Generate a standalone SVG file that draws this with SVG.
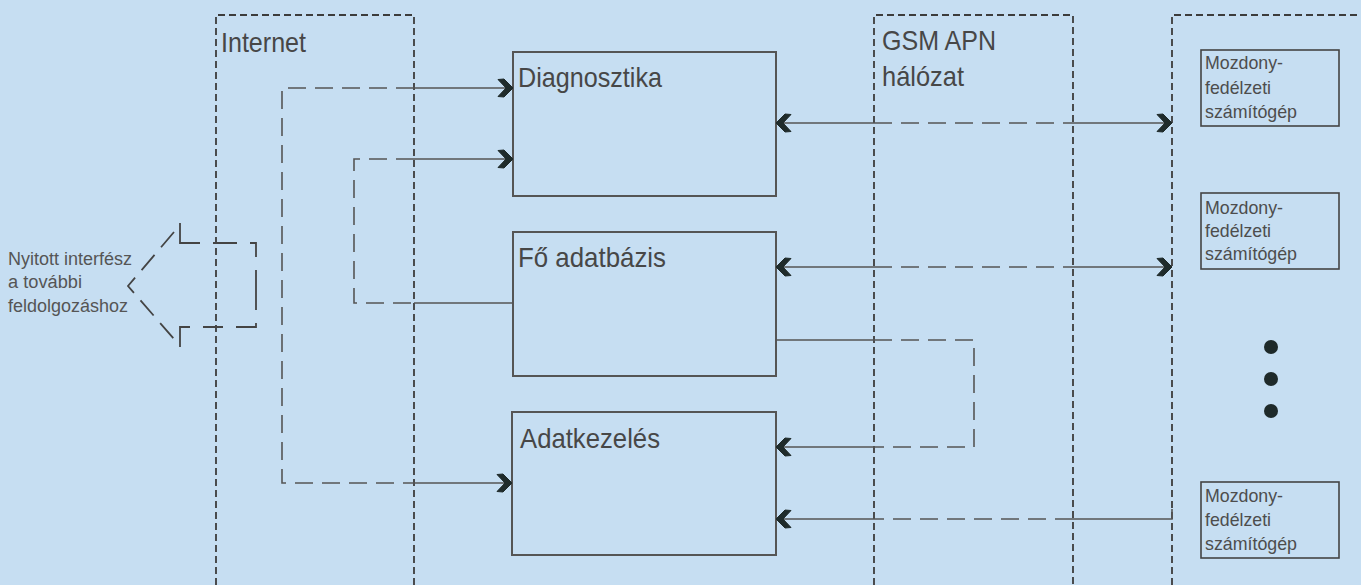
<svg xmlns="http://www.w3.org/2000/svg" width="1361" height="585" viewBox="0 0 1361 585">
<style>
.zone{fill:none;stroke:#3c3c3c;stroke-width:1.8;stroke-dasharray:7 4}
.box{fill:none;stroke:#555;stroke-width:2}
.pc{fill:none;stroke:#444;stroke-width:1.6}
.sol{fill:none;stroke:#555;stroke-width:1.6}
.dsh{fill:none;stroke:#555;stroke-width:1.6;stroke-dasharray:18 9}
.lbl{font-family:"Liberation Sans",Arial,sans-serif;font-size:28px;fill:#474747}
.pct{font-family:"Liberation Sans",Arial,sans-serif;font-size:18.5px;fill:#4d4d4d}
.side{font-family:"Liberation Sans",Arial,sans-serif;font-size:18px;fill:#555}
.arr{marker-end:url(#ah)}
</style>
<defs>
<marker id="ah" markerUnits="userSpaceOnUse" viewBox="-15 -10 17 20" refX="0" refY="0" markerWidth="17" markerHeight="20" orient="auto">
<path d="M1,0 L-8,-9 L-14,-8.5 L-6,0 L-14,8.5 L-8,9 Z" fill="#1f2b2b" stroke="#1f2b2b" stroke-width="1" stroke-linejoin="round"/>
</marker>
</defs>
<rect x="0" y="0" width="1361" height="585" fill="#c6def2"/>

<g id="zone-internet">
<path class="zone" d="M216,585 V15 H414 V585"/>
<text class="lbl" x="221" y="52" textLength="85" lengthAdjust="spacingAndGlyphs">Internet</text>
</g>
<g id="zone-gsm">
<path class="zone" d="M874,585 V15 H1073 V585"/>
<text class="lbl" x="882" y="50" textLength="114" lengthAdjust="spacingAndGlyphs">GSM APN</text>
<text class="lbl" x="882" y="86" textLength="82" lengthAdjust="spacingAndGlyphs">hálózat</text>
</g>
<g id="zone-loco">
<path class="zone" d="M1172,585 V15 H1361"/>
</g>

<g id="node-diagnosztika">
<rect class="box" x="513" y="52" width="263" height="144"/>
<text class="lbl" x="518" y="87" textLength="144" lengthAdjust="spacingAndGlyphs">Diagnosztika</text>
</g>
<g id="node-fo-adatbazis">
<rect class="box" x="513" y="232" width="263" height="144"/>
<text class="lbl" x="518" y="267" textLength="148" lengthAdjust="spacingAndGlyphs">Fő adatbázis</text>
</g>
<g id="node-adatkezeles">
<rect class="box" x="512" y="412" width="264" height="143"/>
<text class="lbl" x="520" y="448" textLength="140" lengthAdjust="spacingAndGlyphs">Adatkezelés</text>
</g>

<g id="node-pc1">
<rect class="pc" x="1201" y="50" width="138" height="76"/>
<text class="pct" x="1205" y="69" textLength="78" lengthAdjust="spacingAndGlyphs">Mozdony-</text>
<text class="pct" x="1205" y="94" textLength="66" lengthAdjust="spacingAndGlyphs">fedélzeti</text>
<text class="pct" x="1205" y="118" textLength="92" lengthAdjust="spacingAndGlyphs">számítógép</text>
</g>
<g id="node-pc2">
<rect class="pc" x="1201" y="193" width="138" height="76"/>
<text class="pct" x="1205" y="214" textLength="78" lengthAdjust="spacingAndGlyphs">Mozdony-</text>
<text class="pct" x="1205" y="237" textLength="66" lengthAdjust="spacingAndGlyphs">fedélzeti</text>
<text class="pct" x="1205" y="260" textLength="92" lengthAdjust="spacingAndGlyphs">számítógép</text>
</g>
<g id="node-pc3">
<rect class="pc" x="1201" y="482" width="138" height="76"/>
<text class="pct" x="1205" y="502" textLength="78" lengthAdjust="spacingAndGlyphs">Mozdony-</text>
<text class="pct" x="1205" y="526" textLength="66" lengthAdjust="spacingAndGlyphs">fedélzeti</text>
<text class="pct" x="1205" y="550" textLength="92" lengthAdjust="spacingAndGlyphs">számítógép</text>
</g>
<g id="node-dots" fill="#1e2a2a">
<circle cx="1271" cy="347" r="7"/>
<circle cx="1271" cy="379" r="7"/>
<circle cx="1271" cy="411" r="7"/>
</g>

<g id="node-open-interface">
<text class="side" x="8" y="265" textLength="124" lengthAdjust="spacingAndGlyphs">Nyitott interfész</text>
<text class="side" x="8" y="288" textLength="74" lengthAdjust="spacingAndGlyphs">a további</text>
<text class="side" x="8" y="312" textLength="120" lengthAdjust="spacingAndGlyphs">feldolgozáshoz</text>
<path fill="none" stroke="#444" stroke-width="1.8" stroke-dasharray="20 10" d="M174,232 L128,286 L174,339"/>
<path fill="none" stroke="#444" stroke-width="1.8" stroke-dasharray="40 13 24 13 20 13" d="M180,223 V243 H256 V327 H180 V347"/>
</g>

<g id="connectors">
<path class="dsh" d="M414,88 H282 V483 H414"/>
<path class="sol arr" d="M414,88 H512"/>
<path class="sol arr" d="M414,483 H511"/>
<path class="dsh" d="M414,159 H354 V303 H414"/>
<path class="sol arr" d="M414,159 H512"/>
<path class="sol" d="M414,303 H513"/>
<path class="sol arr" d="M874,123 H777"/>
<path class="dsh" d="M874,123 H1073"/>
<path class="sol arr" d="M1073,123 H1171"/>
<path class="sol arr" d="M874,267 H777"/>
<path class="dsh" d="M874,267 H1073"/>
<path class="sol arr" d="M1073,267 H1171"/>
<path class="sol" d="M776,340 H874"/>
<path class="dsh" d="M874,340 H974 V447 H874"/>
<path class="sol arr" d="M874,447 H777"/>
<path class="sol" d="M1172,509 V519 H1073"/>
<path class="dsh" d="M1073,519 H874"/>
<path class="sol arr" d="M874,519 H777"/>
</g>
</svg>
